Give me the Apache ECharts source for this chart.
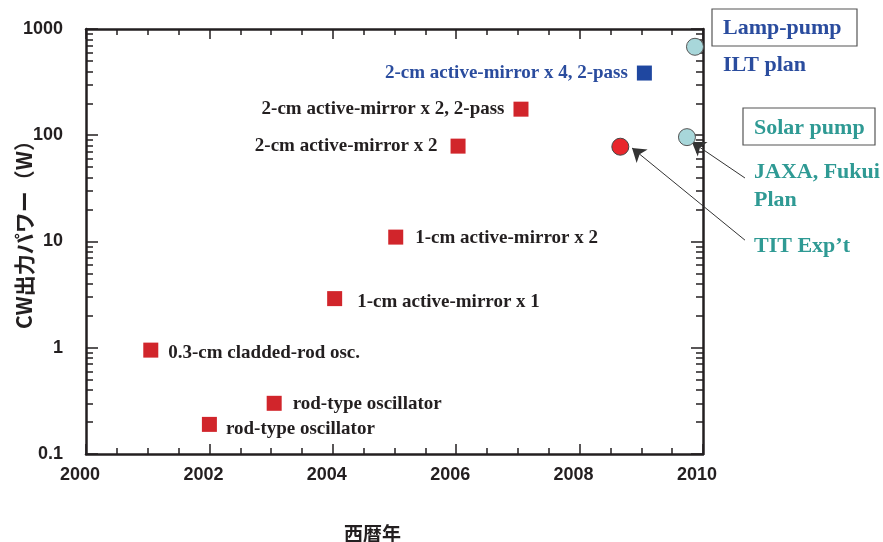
<!DOCTYPE html>
<html><head><meta charset="utf-8">
<script src="https://cdn.jsdelivr.net/npm/echarts@6/dist/echarts.min.js"></script>
<style>html,body{margin:0;padding:0;background:#fff}#c{width:883px;height:542px}</style>
</head><body><div id="c"></div>
<script>
// ---- data ----
const expYears = [2001.05, 2002.0, 2003.05, 2004.03, 2005.02, 2006.03, 2007.05];
const expPower = [0.95, 0.19, 0.3, 2.9, 11, 79, 176];
const expLabels = ['0.3-cm cladded-rod osc.', 'rod-type oscillator', 'rod-type oscillator',
  '1-cm active-mirror x 1', '1-cm active-mirror x 2', '2-cm active-mirror x 2',
  '2-cm active-mirror x 2, 2-pass'];
const iltYears = [2009.05];
const iltPower = [385];
const iltLabels = ['2-cm active-mirror x 4, 2-pass'];
const titYears = [2008.66];
const titPower = [78];
const planYears = [2009.74, 2009.87];
const planPower = [96, 680];
const xTickLabels = ['2000', '2002', '2004', '2006', '2008', '2010'];
const yTickLabels = ['0.1', '1', '10', '100', '1000'];
// annotation arrows (data coords: from label to point)
const arrowFrom = [[2010.68, 39.6], [2010.68, 10.3]];
const arrowTo = [[2009.82, 86.4], [2008.85, 75.9]];

// ---- styles ----
const INK = '#231f20';
const BLUE = '#2a4c9e';
const TEAL = '#2f9a94';
const serif = "'Liberation Serif', 'Times New Roman', serif";
const axisFont = "'Liberation Sans Narrow', 'Liberation Sans', Arial, sans-serif";
const cjkFont = "'Noto Sans CJK JP', 'Noto Sans', sans-serif";

const labelCfg = [
  {position: 'right', distance: 10, offset: [0, 3]},
  {position: 'right', distance: 9, offset: [0, 5]},
  {position: 'right', distance: 11, offset: [0, 1]},
  {position: 'right', distance: 15, offset: [0, 3]},
  {position: 'right', distance: 12, offset: [0, 1]},
  {position: 'left', distance: 13, offset: [0, 0]},
  {position: 'left', distance: 9, offset: [0, 0]}
];

// minor log ticks expressed as exponents on helper axes
const minorExp = [];
for (let d = -1; d < 3; d++) for (let m = 2; m <= 9; m++) minorExp.push(d + Math.log10(m));

const lblText = {fontFamily: serif, fontWeight: 'bold', fontSize: 19, color: INK};

const axisLine = {show: true, onZero: false, lineStyle: {color: INK, width: 2.5}};
function xAx(pos, showLabel) {
  return {
    type: 'value', position: pos, min: 2000, max: 2010, interval: 2,
    axisLine: axisLine, splitLine: {show: false},
    axisTick: {show: true, inside: true, length: 10, lineStyle: {color: INK, width: 1.5}},
    minorTick: {show: true, splitNumber: 4, length: 6, lineStyle: {color: INK, width: 1.5}},
    axisLabel: {show: showLabel, margin: 12, fontFamily: axisFont, fontWeight: 'bold', fontSize: 18, color: INK,
      padding: [0, 12, 0, 0],
      formatter: v => xTickLabels[Math.round((v - 2000) / 2)]},
    name: showLabel ? '西暦年' : '', nameLocation: 'middle', nameGap: 70, nameMoveOverlap: false,
    nameTextStyle: {fontFamily: cjkFont, fontWeight: 'bold', fontSize: 19, color: INK, padding: [0, 44, 0, 0]}
  };
}
function yLog(pos, showLabel) {
  return {
    type: 'log', position: pos, min: 0.1, max: 1000, logBase: 10,
    axisLine: axisLine, splitLine: {show: false},
    axisTick: {show: true, inside: true, length: 12, lineStyle: {color: INK, width: 1.5}},
    axisLabel: {show: showLabel, margin: 23, fontFamily: axisFont, fontWeight: 'bold', fontSize: 18, color: INK,
      formatter: v => yTickLabels[Math.round(Math.log10(v)) + 1]},
    name: showLabel ? 'CW出力パワー（W）' : '', nameLocation: 'middle', nameRotate: 90, nameGap: 51,
    nameMoveOverlap: false,
    nameTextStyle: {fontFamily: cjkFont, fontWeight: 'bold', fontSize: 21, color: INK, padding: [0, 0, 0, 24]}
  };
}
function yMinor(pos) {
  return {
    type: 'value', position: pos, min: -1, max: 3,
    axisLine: {show: false, onZero: false}, splitLine: {show: false}, axisLabel: {show: false},
    axisTick: {show: true, inside: true, length: 7, customValues: minorExp, lineStyle: {color: INK, width: 1.5}}
  };
}

const chart = echarts.init(document.getElementById('c'), null, {renderer: 'canvas'});
chart.setOption({
  backgroundColor: '#fff',
  animation: false,
  grid: {left: 86, right: 180, top: 29, bottom: 88, containLabel: false, outerBoundsMode: 'none'},
  xAxis: [xAx('bottom', true), xAx('top', false)],
  yAxis: [yLog('left', true), yMinor('left'), yLog('right', false), yMinor('right')],
  series: [
    {
      type: 'lines', coordinateSystem: 'cartesian2d', xAxisIndex: 0, yAxisIndex: 0, clip: false, z: 1,
      symbol: ['none', 'arrow'], symbolSize: [0, 13],
      lineStyle: {color: '#333', width: 1, opacity: 1},
      data: arrowFrom.map((f, i) => ({coords: [f, arrowTo[i]]}))
    },
    {
      type: 'scatter', symbol: 'rect', symbolSize: 15, z: 3,
      itemStyle: {color: '#d1252b', opacity: 1},
      data: expYears.map((x, i) => ({
        value: [x, expPower[i]],
        label: Object.assign({show: true, formatter: expLabels[i]}, labelCfg[i], lblText)
      }))
    },
    {
      type: 'scatter', symbol: 'rect', symbolSize: 15, z: 3,
      itemStyle: {color: '#1f47a0', opacity: 1},
      data: iltYears.map((x, i) => ({
        value: [x, iltPower[i]],
        label: Object.assign({show: true, formatter: iltLabels[i], position: 'left', distance: 9}, lblText, {color: BLUE})
      }))
    },
    {
      type: 'scatter', symbol: 'circle', symbolSize: 17, z: 3, clip: false,
      itemStyle: {color: '#e8262c', borderColor: '#444', borderWidth: 1, opacity: 1},
      data: titYears.map((x, i) => [x, titPower[i]])
    },
    {
      type: 'scatter', symbol: 'circle', symbolSize: 17, z: 3, clip: false,
      itemStyle: {color: '#a8d7da', borderColor: '#555', borderWidth: 1, opacity: 1},
      data: planYears.map((x, i) => [x, planPower[i]])
    }
  ],
  graphic: [
    {type: 'rect', shape: {x: 712, y: 9, width: 145, height: 37}, style: {fill: '#fff', stroke: '#555', lineWidth: 1.2}},
    {type: 'text', x: 723, y: 28, style: {text: 'Lamp-pump', font: 'bold 22px ' + serif, fill: BLUE, verticalAlign: 'middle'}},
    {type: 'text', x: 723, y: 65, style: {text: 'ILT plan', font: 'bold 22px ' + serif, fill: BLUE, verticalAlign: 'middle'}},
    {type: 'rect', shape: {x: 743, y: 108, width: 132, height: 37}, style: {fill: '#fff', stroke: '#555', lineWidth: 1.2}},
    {type: 'text', x: 754, y: 128, style: {text: 'Solar pump', font: 'bold 22px ' + serif, fill: TEAL, verticalAlign: 'middle'}},
    {type: 'text', x: 754, y: 172, style: {text: 'JAXA, Fukui', font: 'bold 22px ' + serif, fill: TEAL, verticalAlign: 'middle'}},
    {type: 'text', x: 754, y: 200, style: {text: 'Plan', font: 'bold 22px ' + serif, fill: TEAL, verticalAlign: 'middle'}},
    {type: 'text', x: 754, y: 246, style: {text: 'TIT Exp\u2019t', font: 'bold 22px ' + serif, fill: TEAL, verticalAlign: 'middle'}}
  ]
});
</script></body></html>
